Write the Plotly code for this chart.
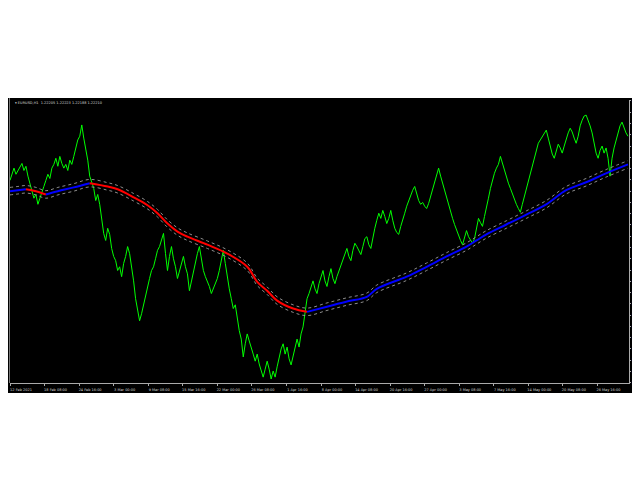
import plotly.graph_objects as go

# ---------------- data ----------------
price = [
    1.2127, 1.2142, 1.2153, 1.2140, 1.2148, 1.2157, 1.2163, 1.2148, 1.2157, 1.2136,
    1.2121, 1.2106, 1.2089, 1.2097, 1.2076, 1.2089, 1.2104, 1.2114, 1.2127, 1.2140,
    1.2131, 1.2153, 1.2161, 1.2174, 1.2157, 1.2178, 1.2163, 1.2153, 1.2161, 1.2148,
    1.2170, 1.2161, 1.2178, 1.2196, 1.2213, 1.2221, 1.2245, 1.2217, 1.2196, 1.2170,
    1.2136, 1.2121, 1.2110, 1.2084, 1.2097, 1.2076, 1.2050, 1.2014, 1.1999, 1.2025,
    1.2012, 1.1982, 1.1965, 1.1956, 1.1935, 1.1943, 1.1922, 1.1950, 1.1965, 1.1986,
    1.1971, 1.1943, 1.1913, 1.1875, 1.1854, 1.1828, 1.1843, 1.1862, 1.1886, 1.1901,
    1.1918, 1.1935, 1.1943, 1.1960, 1.1978, 1.1986, 1.1999, 1.2014, 1.1971, 1.1935,
    1.1965, 1.1986, 1.1960, 1.1943, 1.1918, 1.1935, 1.1950, 1.1965, 1.1943, 1.1928,
    1.1892, 1.1913, 1.1935, 1.1956, 1.1971, 1.1986, 1.1960, 1.1935, 1.1922, 1.1913,
    1.1901, 1.1886, 1.1896, 1.1905, 1.1918, 1.1935, 1.1956, 1.1978, 1.1950, 1.1918,
    1.1896, 1.1875, 1.1854, 1.1862, 1.1832, 1.1807, 1.1789, 1.1751, 1.1779, 1.1800,
    1.1785, 1.1768, 1.1757, 1.1742, 1.1757, 1.1736, 1.1721, 1.1708, 1.1725, 1.1742,
    1.1725, 1.1704, 1.1721, 1.1708, 1.1730, 1.1751, 1.1768, 1.1779, 1.1757, 1.1772,
    1.1747, 1.1734, 1.1751, 1.1768, 1.1789, 1.1772, 1.1800, 1.1815, 1.1843, 1.1875,
    1.1886, 1.1901, 1.1913, 1.1896, 1.1886, 1.1907, 1.1922, 1.1935, 1.1913, 1.1901,
    1.1922, 1.1939, 1.1918, 1.1907, 1.1922, 1.1935, 1.1943, 1.1960, 1.1971, 1.1982,
    1.1965, 1.1956, 1.1978, 1.1993, 1.1986, 1.1978, 1.1969, 1.1986, 1.2003, 1.2007,
    1.1990, 1.1982, 1.2007, 1.2025, 1.2042, 1.2057, 1.2046, 1.2063, 1.2050, 1.2035,
    1.2046, 1.2063, 1.2042, 1.2025, 1.2016, 1.2012, 1.2029, 1.2046, 1.2057, 1.2072,
    1.2084, 1.2093, 1.2106, 1.2114, 1.2097, 1.2084, 1.2076, 1.2080, 1.2072, 1.2067,
    1.2078, 1.2093, 1.2110, 1.2127, 1.2142, 1.2153, 1.2136, 1.2121, 1.2106, 1.2089,
    1.2072, 1.2057, 1.2046, 1.2033, 1.2020, 1.2012, 1.1999, 1.1990, 1.2007, 1.2020,
    1.2007, 1.1999, 1.1993, 1.2003, 1.2025, 1.2046, 1.2037, 1.2029, 1.2050, 1.2067,
    1.2089, 1.2110, 1.2127, 1.2142, 1.2153, 1.2161, 1.2178, 1.2163, 1.2148, 1.2136,
    1.2121, 1.2110, 1.2097, 1.2084, 1.2076, 1.2067, 1.2059, 1.2076, 1.2093, 1.2110,
    1.2127, 1.2142, 1.2157, 1.2174, 1.2191, 1.2206, 1.2213, 1.2221, 1.2228, 1.2234,
    1.2217, 1.2200, 1.2183, 1.2174, 1.2191, 1.2204, 1.2196, 1.2185, 1.2200, 1.2217,
    1.2228, 1.2238, 1.2230, 1.2217, 1.2206, 1.2221, 1.2243, 1.2255, 1.2264, 1.2266,
    1.2255, 1.2243, 1.2228, 1.2206, 1.2185, 1.2174, 1.2191, 1.2200, 1.2185, 1.2196,
    1.2174, 1.2136, 1.2174, 1.2196, 1.2213, 1.2228, 1.2243, 1.2251, 1.2238, 1.2228,
    1.2221,
]

ma_bar = [0, 4, 8, 13, 18, 24, 32, 40, 49, 54, 62, 69, 74, 79, 84, 89, 99, 109,
          119, 124, 129, 134, 142, 149, 159, 169, 179, 184, 199, 209, 219, 229,
          234, 239, 249, 259, 269, 279, 289, 299, 310]
ma_val = [1.2104, 1.2106, 1.2108, 1.2104, 1.2097, 1.2104, 1.2112, 1.2121, 1.2114,
          1.2108, 1.2091, 1.2074, 1.2057, 1.2035, 1.2018, 1.2007, 1.1990, 1.1971,
          1.1943, 1.1911, 1.1892, 1.1871, 1.1854, 1.1847, 1.1858, 1.1869, 1.1879,
          1.1896, 1.1922, 1.1943, 1.1965, 1.1986, 1.1999, 1.2012, 1.2033, 1.2054,
          1.2076, 1.2106, 1.2123, 1.2142, 1.2161]
band_offset = 0.0008

xtick_bar = [0, 17.33, 34.67, 52, 69.33, 86.67, 104, 121.33, 138.67, 156,
             173.33, 190.67, 208, 225.33, 242.67, 260, 277.33, 294.67]
xtick_text = ["12 Feb 2021", "18 Feb 08:00", "24 Feb 16:00", "3 Mar 00:00",
              "9 Mar 08:00", "15 Mar 16:00", "22 Mar 00:00", "26 Mar 08:00",
              "1 Apr 16:00", "8 Apr 00:00", "14 Apr 08:00", "20 Apr 16:00",
              "27 Apr 00:00", "3 May 08:00", "7 May 16:00", "14 May 00:00",
              "20 May 08:00", "26 May 16:00"]

ytick_vals = [1.2296, 1.2272, 1.2248, 1.2224, 1.2200, 1.2176, 1.2152, 1.2128,
              1.2104, 1.2080, 1.2056, 1.2032, 1.2008, 1.1984, 1.1960, 1.1936,
              1.1912, 1.1888, 1.1864, 1.1840, 1.1816, 1.1792, 1.1768, 1.1744,
              1.1720, 1.1696]

title_text = "\u25be EURUSD,H1  1.22205 1.22223 1.22188 1.22210"

# ---------------- figure ----------------
W, H = 640, 480
plot_left, plot_right = 2, 621
plot_top, plot_bottom = 92, 375
black_top, black_bottom = 90, 385
FONT = "DejaVu Sans"
TXT = "#d8d8d8"

fig = go.Figure()

bars = list(range(len(price)))
fig.add_trace(go.Scatter(x=bars, y=price, mode="lines",
                         line=dict(color="#00FF00", width=1), hoverinfo="skip"))

upper = [v + band_offset for v in ma_val]
lower = [v - band_offset for v in ma_val]
for band in (upper, lower):
    fig.add_trace(go.Scatter(x=ma_bar, y=band, mode="lines",
                             line=dict(color="#8c8c8c", width=1, dash="dot", shape="spline"),
                             hoverinfo="skip"))

# colour the average by direction: blue rising, red falling
seg_start = 0
for i in range(1, len(ma_val)):
    rising = ma_val[i] >= ma_val[i - 1]
    last = i == len(ma_val) - 1
    nxt_rising = (ma_val[i + 1] >= ma_val[i]) if not last else rising
    if last or nxt_rising != rising:
        fig.add_trace(go.Scatter(x=ma_bar[seg_start:i + 1], y=ma_val[seg_start:i + 1],
                                 mode="lines",
                                 line=dict(color="#0000FF" if rising else "#FF0000",
                                           width=2, shape="spline"),
                                 hoverinfo="skip"))
        seg_start = i

pw = plot_right - plot_left
ph = plot_bottom - plot_top
fig.add_shape(type="rect", xref="paper", yref="paper", layer="below",
              x0=(0 - plot_left) / pw, x1=(W - plot_left) / pw,
              y0=(plot_bottom - black_bottom) / ph, y1=(plot_bottom - black_top) / ph,
              fillcolor="black", line=dict(width=0))
fig.add_shape(type="line", xref="paper", yref="paper",
              x0=-0.5 / pw, x1=-0.5 / pw, y0=0, y1=(plot_bottom - black_top) / ph,
              line=dict(color="#777777", width=1))

fig.add_annotation(text=title_text, xref="paper", yref="paper",
                   x=3 / pw, y=1 - 3 / ph, xanchor="left", yanchor="middle",
                   showarrow=False, font=dict(size=3.5, color=TXT, family=FONT))

fig.update_layout(
    width=W, height=H,
    margin=dict(l=plot_left, r=W - plot_right, t=plot_top, b=H - plot_bottom, pad=0),
    paper_bgcolor="white", plot_bgcolor="black",
    showlegend=False,
    xaxis=dict(range=[0, 310.5], tickvals=xtick_bar, ticktext=xtick_text,
               showgrid=False, zeroline=False, showline=True, linecolor="#aaaaaa",
               linewidth=1, ticks="outside", ticklen=2, tickcolor="#aaaaaa",
               tickfont=dict(size=3.5, color=TXT, family=FONT),
               ticklabelshift=11, ticklabelstandoff=1, tickangle=0),
    yaxis=dict(range=[1.16955, 1.22981], side="right", tickvals=ytick_vals,
               tickformat=".4f", showgrid=False, zeroline=False, showline=True,
               linecolor="#aaaaaa", linewidth=1, ticks="outside", ticklen=1,
               tickcolor="#aaaaaa",
               tickfont=dict(size=3.2, color=TXT, family=FONT),
               ticklabelstandoff=0),
)

fig.write_html("out.html")
